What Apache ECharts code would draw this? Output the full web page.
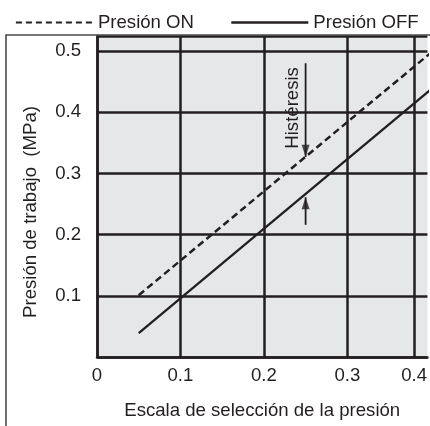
<!DOCTYPE html>
<html><head><meta charset="utf-8">
<script src="https://cdn.jsdelivr.net/npm/echarts@6/dist/echarts.min.js"></script>
<style>html,body{margin:0;padding:0;background:#fff}#c{width:430px;height:426px}</style>
</head><body><div id="c"></div>
<script>
const seriesNames = ['Presión ON', 'Presión OFF'];
const xPoints = [0.05, 0.4];
const onValues = [0.101, 0.497];
const offValues = [0.039, 0.437];
const xTickValues = [0, 0.1, 0.2, 0.3, 0.38];
const xTickLabels = ['0', '0.1', '0.2', '0.3', '0.4'];
const yTickValues = [0.1, 0.2, 0.3, 0.4, 0.5];
const hysteresisX = 0.25;
const arrowDown = [0.48, 0.327];
const arrowUp = [0.216, 0.261];
const annotationText = 'Histéresis';
const annotationPos = [0.2345, 0.407];
const xTitle = 'Escala de selección de la presión';
const yTitle = 'Presión de trabajo  (MPa)';

const INK = '#231f20';
const FONT = 'Liberation Sans, Arial, sans-serif';
const FS = 18.6;
const chart = echarts.init(document.getElementById('c'), null, {renderer: 'canvas'});

function pairs(xs, ys) { return xs.map((x, i) => [x, ys[i]]); }

const option = {
  animation: false,
  backgroundColor: '#fff',
  textStyle: {fontFamily: FONT, color: INK},
  legend: {
    data: [
      {name: seriesNames[0], lineStyle: {width: 1.8, type: [6, 4]}},
      {name: seriesNames[1], lineStyle: {width: 2.6}}
    ],
    left: 15, top: 13, padding: 0,
    itemWidth: 77, itemHeight: 14, itemGap: 36,
    itemStyle: {opacity: 0},
    textStyle: {fontSize: FS, color: INK, fontFamily: FONT}
  },
  grid: {left: 97, right: 0, top: 36, bottom: 69, show: true, backgroundColor: '#e6e7e8', borderWidth: 0},
  xAxis: {
    type: 'value', min: 0, max: 0.396, interval: 0.1,
    name: xTitle, nameLocation: 'middle', nameGap: 44,
    nameTextStyle: {fontSize: FS, color: INK, fontFamily: FONT},
    axisLine: {show: true, lineStyle: {color: INK, width: 2.5}},
    axisTick: {show: false, customValues: xTickValues},
    axisLabel: {
      customValues: xTickValues, margin: 9, fontSize: FS, color: INK, fontFamily: FONT,
      formatter: function (v) {
        for (let i = 0; i < xTickValues.length; i++) if (Math.abs(xTickValues[i] - v) < 1e-9) return xTickLabels[i];
        return '';
      }
    },
    splitLine: {show: true, lineStyle: {color: INK, width: 2.5}}
  },
  yAxis: {
    type: 'value', min: 0, max: 0.5245, interval: 0.1,
    name: yTitle, nameLocation: 'middle', nameGap: 57,
    nameTextStyle: {fontSize: FS, color: INK, fontFamily: FONT, padding: [0, 31, 0, 0]},
    axisLine: {show: true, lineStyle: {color: INK, width: 2.5}},
    axisTick: {show: false},
    axisLabel: {showMinLabel: false, showMaxLabel: false, margin: 16, fontSize: FS, color: INK, fontFamily: FONT,
      formatter: function (v) {
        for (let i = 0; i < yTickValues.length; i++) if (Math.abs(yTickValues[i] - v) < 1e-9) return String(yTickValues[i]);
        return '';
      }
    },
    splitLine: {show: true, lineStyle: {color: INK, width: 2.5}}
  },
  series: [
    {name: seriesNames[0], type: 'line', symbol: 'none', data: pairs(xPoints, onValues),
      lineStyle: {color: INK, width: 2.5, type: [7, 4]}, itemStyle: {color: INK}, z: 3},
    {name: seriesNames[1], type: 'line', symbol: 'none', data: pairs(xPoints, offValues),
      lineStyle: {color: INK, width: 2.3, type: 'solid'}, itemStyle: {color: INK}, z: 3},
    {name: 'shaftDown', type: 'line', symbol: 'none', data: [[hysteresisX, arrowDown[0]], [hysteresisX, arrowDown[1]]],
      lineStyle: {color: INK, width: 1.8}, z: 4},
    {name: 'shaftUp', type: 'line', symbol: 'none', data: [[hysteresisX, arrowUp[0]], [hysteresisX, arrowUp[1]]],
      lineStyle: {color: INK, width: 1.8}, z: 4},
    {name: 'headDown', type: 'scatter', symbol: 'triangle', symbolSize: [8, 12], symbolRotate: 180,
      symbolOffset: [0, -6], data: [[hysteresisX, arrowDown[1]]], itemStyle: {color: INK}, z: 5, silent: true},
    {name: 'headUp', type: 'scatter', symbol: 'triangle', symbolSize: [8, 12],
      symbolOffset: [0, 6], data: [[hysteresisX, arrowUp[1]]], itemStyle: {color: INK}, z: 5, silent: true}
  ]
};
chart.setOption(option);
const p = chart.convertToPixel({gridIndex: 0}, annotationPos);
chart.setOption({graphic: [
  {type: 'polyline', shape: {points: [[6, 426], [6, 35], [430, 35]]}, style: {stroke: '#4a4a4a', lineWidth: 1.6, fill: null}, z: 100},
  {type: 'text', x: p[0], y: p[1], rotation: Math.PI / 2, style: {text: annotationText, fontSize: FS, fontFamily: FONT, fill: INK, align: 'center', verticalAlign: 'middle'}, z: 100}
]});
</script>
</body></html>
